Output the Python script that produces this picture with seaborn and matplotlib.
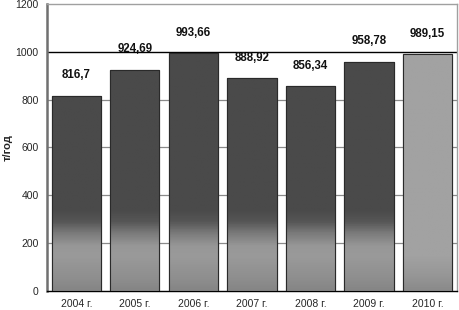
import numpy as np
import pandas as pd
import matplotlib
matplotlib.use("Agg")
import matplotlib.pyplot as plt
import seaborn as sns
from matplotlib.colors import LinearSegmentedColormap

years = ["2004 г.", "2005 г.", "2006 г.", "2007 г.", "2008 г.", "2009 г.", "2010 г."]
values = [816.7, 924.69, 993.66, 888.92, 856.34, 958.78, 989.15]
value_labels = ["816,7", "924,69", "993,66", "888,92", "856,34", "958,78", "989,15"]
y_ticks = [0, 200, 400, 600, 800, 1000, 1200]

sns.set_theme(style="white")
plt.rcParams['font.family'] = ['Liberation Sans', 'DejaVu Sans']

fig = plt.figure(figsize=(4.59, 3.10), dpi=100)
ax = fig.add_axes([0.1024, 0.0613, 0.893, 0.926])

# gridlines (behind bars)
for yv in [200, 400, 600, 800]:
    ax.axhline(yv, color="#8a8a8a", linewidth=0.9, zorder=0.5)

df = pd.DataFrame({"year": years, "value": values})
sns.barplot(data=df, x="year", y="value", ax=ax, color="#4a4a4a", width=0.84,
            edgecolor="#2a2a2a", linewidth=0.8, zorder=3)

ax.set_ylim(0, 1200)
ax.set_xlim(-0.5, len(years) - 0.5)

# gradient fill (depends on absolute y)
dark_map = LinearSegmentedColormap.from_list(
    "g", [(0.0, "#858585"), (0.04, "#8e8e8e"), (0.12, "#9a9a9a"), (0.155, "#979797"),
          (0.2, "#7a7a7a"), (0.24, "#565656"), (0.28, "#4a4a4a"), (1.0, "#4a4a4a")])
light_map = LinearSegmentedColormap.from_list(
    "l", [(0.0, "#8a8a8a"), (0.05, "#969696"), (0.12, "#a2a2a2"), (1.0, "#a2a2a2")])

bars = list(ax.patches)
n = len(bars)
for i, patch in enumerate(bars):
    x0 = patch.get_x()
    w = patch.get_width()
    h = patch.get_height()
    ys = np.linspace(0, h, 300)
    cmap = light_map if i == n - 1 else dark_map
    img = (ys / 1200.0).reshape(-1, 1)
    im = ax.imshow(img, cmap=cmap, vmin=0, vmax=1, origin="lower", aspect="auto",
                   extent=[x0, x0 + w, 0, h], zorder=3.5, interpolation="bilinear")
    im.set_clip_path(patch)
    ax.add_patch(plt.Rectangle((x0, 0), w, h, fill=False, edgecolor="#2a2a2a",
                               linewidth=0.8, zorder=4))
    ax.text(i, h + 85, value_labels[i], ha="center", va="center",
            fontsize=8.3, fontweight="bold", color="#111111", zorder=5)

ax.set_xlim(-0.5, len(years) - 0.5)
ax.set_ylim(0, 1200)

ax.axhline(1000, color="black", linewidth=1.0, zorder=2)

ax.set_yticks(y_ticks)
ax.set_yticklabels([str(v) for v in y_ticks], fontsize=7.5)
ax.set_xticks(range(len(years)))
ax.set_xticklabels(years, fontsize=7.5)
ax.set_xticks(np.arange(-0.5, len(years), 1.0), minor=True)
ax.tick_params(axis="x", which="major", length=0, pad=6)
ax.tick_params(axis="x", which="minor", length=3, direction="out", color="black", width=0.8)
ax.tick_params(axis="y", which="major", length=6, direction="inout", color="#555555", width=1.0, pad=3)

ax.set_xlabel("")
ax.set_ylabel("т/год", fontsize=8, fontweight="bold")
ax.yaxis.set_label_coords(-0.084, 0.5)

for side in ["top", "right"]:
    ax.spines[side].set_visible(True)
    ax.spines[side].set_color("#a0a0a0")
    ax.spines[side].set_linewidth(1.0)
ax.spines["left"].set_color("#707070")
ax.spines["left"].set_linewidth(1.8)
ax.spines["bottom"].set_color("black")
ax.spines["bottom"].set_linewidth(1.0)

fig.savefig("out.png", dpi=100)
